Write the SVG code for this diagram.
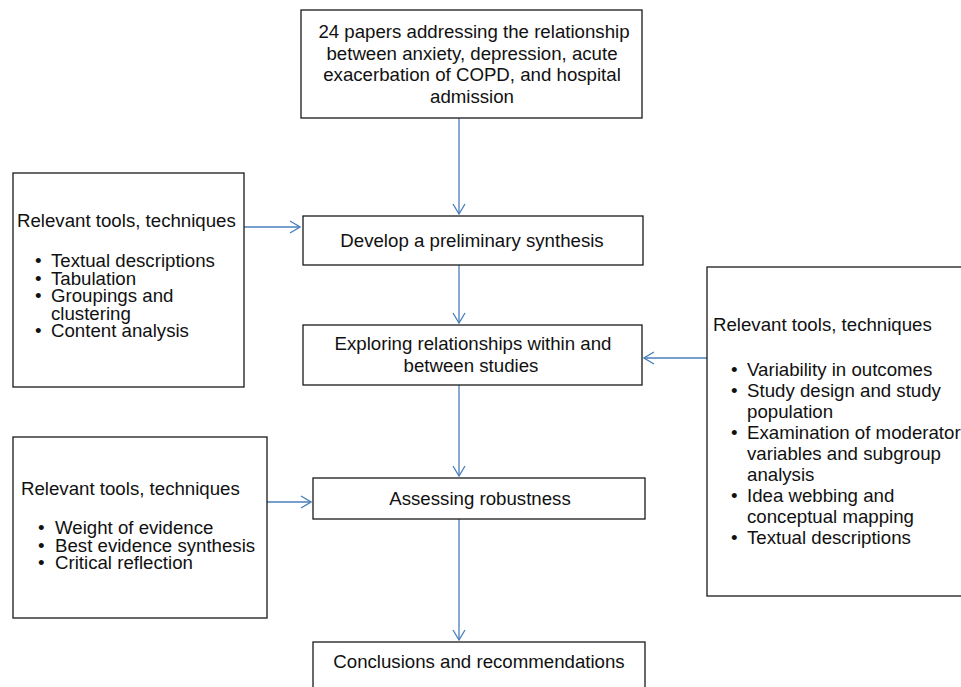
<svg xmlns="http://www.w3.org/2000/svg" width="961" height="687" viewBox="0 0 961 687">
<style>
.box{fill:#fff;stroke:#1a1a1a;stroke-width:1.3}
.t{font-family:"Liberation Sans",Arial,sans-serif;font-size:18.67px;fill:#111}
.c{text-anchor:middle}
.con{stroke:#4a7ebb;stroke-width:1.3;fill:none}
</style>
<defs>
<marker id="arr" viewBox="0 0 12 14" refX="11" refY="7" markerWidth="12" markerHeight="14" orient="auto" markerUnits="userSpaceOnUse">
<path d="M1,1 L11,7 L1,13" fill="none" stroke="#4a7ebb" stroke-width="1.3"/>
</marker>
</defs>
<rect width="961" height="687" fill="#fff"/>
<g id="connectors">
<line class="con" x1="459" y1="118" x2="459" y2="214" marker-end="url(#arr)"/>
<line class="con" x1="459" y1="265" x2="459" y2="323" marker-end="url(#arr)"/>
<line class="con" x1="459" y1="385" x2="459" y2="476" marker-end="url(#arr)"/>
<line class="con" x1="459" y1="519" x2="459" y2="640" marker-end="url(#arr)"/>
<line class="con" x1="244" y1="227" x2="300" y2="227" marker-end="url(#arr)"/>
<line class="con" x1="707" y1="358" x2="644" y2="358" marker-end="url(#arr)"/>
<line class="con" x1="267" y1="502" x2="311" y2="502" marker-end="url(#arr)"/>
</g>
<g id="papers">
<rect class="box" x="301" y="10" width="341" height="108"/>
<text class="t c" x="474" y="38">24 papers addressing the relationship</text>
<text class="t c" x="472" y="59.5">between anxiety, depression, acute</text>
<text class="t c" x="472" y="81">exacerbation of COPD, and hospital</text>
<text class="t c" x="472" y="102.5">admission</text>
</g>
<g id="develop">
<rect class="box" x="303" y="216" width="340" height="49"/>
<text class="t c" x="472" y="247">Develop a preliminary synthesis</text>
</g>
<g id="explore">
<rect class="box" x="303" y="325" width="339" height="60"/>
<text class="t c" x="473" y="350">Exploring relationships within and</text>
<text class="t c" x="471" y="372">between studies</text>
</g>
<g id="assess">
<rect class="box" x="313" y="478" width="332" height="41"/>
<text class="t c" x="480" y="505">Assessing robustness</text>
</g>
<g id="conclusions">
<rect class="box" x="313" y="642" width="332" height="60"/>
<text class="t c" x="479" y="668">Conclusions and recommendations</text>
</g>
<g id="tools1">
<rect class="box" x="13" y="173" width="231" height="214"/>
<text class="t" x="17" y="227">Relevant tools, techniques</text>
<text class="t" x="35" y="267">•</text><text class="t" x="51" y="267">Textual descriptions</text>
<text class="t" x="35" y="284.5">•</text><text class="t" x="51" y="284.5">Tabulation</text>
<text class="t" x="35" y="302">•</text><text class="t" x="51" y="302">Groupings and</text>
<text class="t" x="51" y="319.5">clustering</text>
<text class="t" x="35" y="337">•</text><text class="t" x="51" y="337">Content analysis</text>
</g>
<g id="tools2">
<rect class="box" x="707" y="267" width="270" height="329"/>
<text class="t" x="713" y="331">Relevant tools, techniques</text>
<text class="t" x="731" y="376">•</text><text class="t" x="747" y="376">Variability in outcomes</text>
<text class="t" x="731" y="397">•</text><text class="t" x="747" y="397">Study design and study</text>
<text class="t" x="747" y="418">population</text>
<text class="t" x="731" y="439">•</text><text class="t" x="747" y="439">Examination of moderator</text>
<text class="t" x="747" y="460">variables and subgroup</text>
<text class="t" x="747" y="481">analysis</text>
<text class="t" x="731" y="502">•</text><text class="t" x="747" y="502">Idea webbing and</text>
<text class="t" x="747" y="523">conceptual mapping</text>
<text class="t" x="731" y="544">•</text><text class="t" x="747" y="544">Textual descriptions</text>
</g>
<g id="tools3">
<rect class="box" x="13" y="437" width="254" height="181"/>
<text class="t" x="21" y="495">Relevant tools, techniques</text>
<text class="t" x="38" y="534">•</text><text class="t" x="55" y="534">Weight of evidence</text>
<text class="t" x="38" y="552">•</text><text class="t" x="55" y="552">Best evidence synthesis</text>
<text class="t" x="38" y="569">•</text><text class="t" x="55" y="569">Critical reflection</text>
</g>
</svg>
